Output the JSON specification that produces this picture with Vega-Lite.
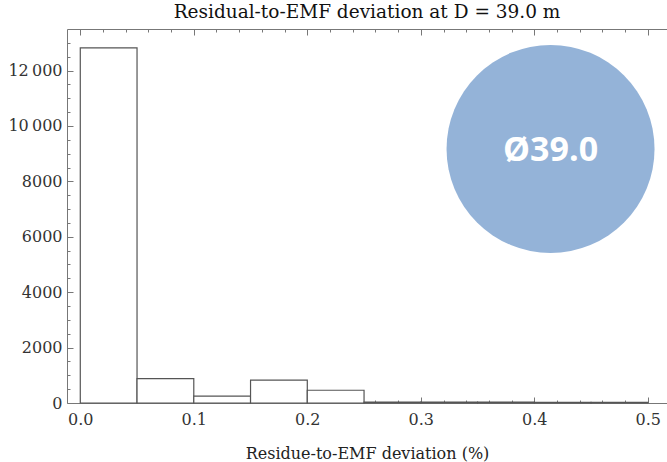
{
  "$schema": "https://vega.github.io/schema/vega-lite/v6.json",
  "width": 600,
  "height": 374,
  "autosize": {"type": "none"},
  "padding": {"left": 67, "top": 29, "right": 0, "bottom": 59},
  "background": "white",
  "config": {
    "view": {"stroke": null},
    "font": "DejaVu Serif"
  },
  "title": {
    "text": "Residual-to-EMF deviation at D = 39.0 m",
    "font": "DejaVu Serif",
    "fontSize": 18.5,
    "fontWeight": "normal",
    "color": "#111111",
    "offset": 7,
    "anchor": "middle"
  },
  "resolve": {"axis": {"x": "independent", "y": "independent"}},
  "layer": [
    {
      "data": {
        "values": [
          {"bin_start": 0.0, "bin_end": 0.05, "count": 12816},
          {"bin_start": 0.05, "bin_end": 0.1, "count": 880},
          {"bin_start": 0.1, "bin_end": 0.15, "count": 250},
          {"bin_start": 0.15, "bin_end": 0.2, "count": 825},
          {"bin_start": 0.2, "bin_end": 0.25, "count": 460},
          {"bin_start": 0.25, "bin_end": 0.3, "count": 35},
          {"bin_start": 0.3, "bin_end": 0.35, "count": 30},
          {"bin_start": 0.35, "bin_end": 0.4, "count": 30},
          {"bin_start": 0.4, "bin_end": 0.45, "count": 25},
          {"bin_start": 0.45, "bin_end": 0.5, "count": 25}
        ]
      },
      "mark": {"type": "bar", "fill": "white", "stroke": "#555555", "strokeWidth": 1.2},
      "encoding": {
        "x": {
          "field": "bin_start",
          "type": "quantitative",
          "scale": {"domain": [-0.0117, 0.5169], "nice": false, "zero": false},
          "axis": {
            "orient": "bottom",
            "title": "Residue-to-EMF deviation (%)",
            "titleFont": "DejaVu Serif",
            "titleFontSize": 16,
            "titleFontWeight": "normal",
            "titleColor": "#222222",
            "titlePadding": 15,
            "values": [0, 0.02, 0.04, 0.06, 0.08, 0.1, 0.12, 0.14, 0.16, 0.18, 0.2, 0.22, 0.24, 0.26, 0.28, 0.3, 0.32, 0.34, 0.36, 0.38, 0.4, 0.42, 0.44, 0.46, 0.48, 0.5],
            "labelExpr": "abs(datum.value * 10 - round(datum.value * 10)) < 0.001 ? format(datum.value, '.1f') : ''",
            "labelFont": "DejaVu Serif",
            "labelFontSize": 16,
            "labelColor": "#333333",
            "labelOverlap": false,
            "labelFlush": false,
            "labelPadding": 14,
            "tickSize": {"condition": {"test": "abs(datum.value * 10 - round(datum.value * 10)) < 0.001", "value": -6}, "value": -3},
            "tickColor": "#777777",
            "tickWidth": 1,
            "domainColor": "#777777",
            "domainWidth": 1,
            "grid": false
          }
        },
        "x2": {"field": "bin_end"},
        "y": {
          "field": "count",
          "type": "quantitative",
          "scale": {"domain": [0, 13500], "nice": false},
          "axis": {
            "orient": "left",
            "title": null,
            "values": [0, 500, 1000, 1500, 2000, 2500, 3000, 3500, 4000, 4500, 5000, 5500, 6000, 6500, 7000, 7500, 8000, 8500, 9000, 9500, 10000, 10500, 11000, 11500, 12000, 12500, 13000],
            "labelExpr": "datum.value % 2000 === 0 ? (datum.value >= 10000 ? replace(format(datum.value, ','), ',', '\u2009') : format(datum.value, 'd')) : ''",
            "labelFont": "DejaVu Serif",
            "labelFontSize": 16,
            "labelColor": "#333333",
            "labelOverlap": false,
            "labelFlush": false,
            "labelPadding": 11,
            "tickSize": {"condition": {"test": "datum.value % 2000 === 0", "value": -6}, "value": -3},
            "tickColor": "#777777",
            "tickWidth": 1,
            "domainColor": "#777777",
            "domainWidth": 1,
            "grid": false
          }
        },
        "y2": {"datum": 0}
      }
    },
    {
      "data": {"values": [{"label": "Ø39.0", "cx": 0.4143, "cy": 9170}]},
      "mark": {"type": "point", "shape": "circle", "filled": true, "size": 43264, "color": "#94B3D8", "opacity": 1},
      "encoding": {
        "x": {
          "field": "cx",
          "type": "quantitative",
          "axis": {
            "orient": "top",
            "title": null,
            "labels": false,
            "values": [0, 0.02, 0.04, 0.06, 0.08, 0.1, 0.12, 0.14, 0.16, 0.18, 0.2, 0.22, 0.24, 0.26, 0.28, 0.3, 0.32, 0.34, 0.36, 0.38, 0.4, 0.42, 0.44, 0.46, 0.48, 0.5],
            "tickSize": {"condition": {"test": "abs(datum.value * 10 - round(datum.value * 10)) < 0.001", "value": -6}, "value": -3},
            "tickColor": "#777777",
            "tickWidth": 1,
            "domainColor": "#777777",
            "domainWidth": 1,
            "grid": false
          }
        },
        "y": {"field": "cy", "type": "quantitative", "axis": null}
      }
    },
    {
      "data": {"values": [{"label": "Ø39.0", "cx": 0.4143, "cy": 9100}]},
      "mark": {"type": "text", "font": "Open Sans", "fontWeight": "bold", "fontSize": 34, "color": "white", "align": "center", "baseline": "middle"},
      "encoding": {
        "x": {"field": "cx", "type": "quantitative", "axis": null},
        "y": {"field": "cy", "type": "quantitative", "axis": null},
        "text": {"field": "label"}
      }
    }
  ]
}
